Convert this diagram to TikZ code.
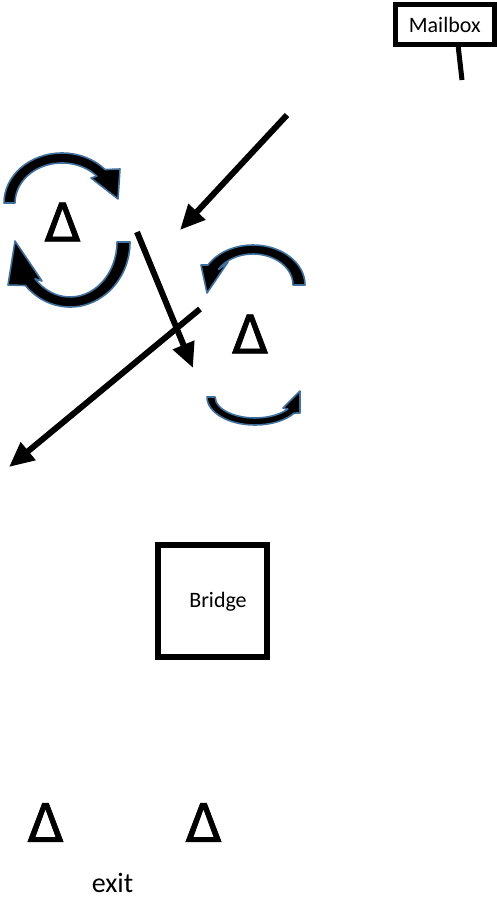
\documentclass[tikz,border=0pt]{standalone}
\usepackage{fontspec}
\setmainfont{Carlito}
\newfontfamily\deltafont[FakeBold=1.3]{DejaVu Sans}
\usetikzlibrary{arrows.meta}
\definecolor{outl}{HTML}{41719C}
\begin{document}
\begin{tikzpicture}[x=1pt,y=-1pt,
  curv/.style={fill=black, draw=outl, line width=1.6pt, line join=round},
  straight/.style={line width=6pt, -{Triangle[length=25pt,width=22pt]}},
  tri/.style={inner sep=0pt, font=\fontsize{53}{53}\deltafont},
  boxnode/.style={draw, line width=5pt, inner sep=0pt},
  lbl/.style={inner sep=0pt, font=\fontsize{22}{22}\selectfont}]
\useasboundingbox (0,0) rectangle (496,898);

% Mailbox
\node[boxnode, minimum width=98.5pt, minimum height=40pt, font=\fontsize{22}{22}\selectfont] (mailbox) at (444.75,24.5) {Mailbox};
\coordinate (poleend) at (462,80);
\draw[line width=5pt] ([xshift=13.5pt]mailbox.south) -- (poleend);

% straight arrows
\coordinate (a1s) at (287,115); \coordinate (a1e) at (180,230);
\coordinate (a2s) at (137,232); \coordinate (a2e) at (193,368);
\coordinate (a3s) at (200,309); \coordinate (a3e) at (9,467);
\draw[straight] (a1s) -- (a1e);
\draw[straight] (a2s) -- (a2e);
\draw[straight] (a3s) -- (a3e);

% left cycle
\filldraw[curv] (4,203) arc[start angle=180, end angle=318, x radius=58, y radius=50]
  -- (120,169) -- (118,199) -- (91,178) -- (96.9,176.2)
  arc[start angle=318, end angle=180, x radius=47, y radius=40] -- cycle;
\filldraw[curv] (130,242) arc[start angle=0, end angle=138, x radius=60, y radius=65]
  -- (8,285) -- (15,241) -- (42,281) -- (35.1,278.8)
  arc[start angle=138, end angle=0, x radius=47, y radius=55] -- cycle;
\node[tri] (d1) at (62.5,222) {Δ};

% middle cycle
\filldraw[curv] (305,285) arc[start angle=0, end angle=-150, x radius=52, y radius=40]
  -- (201,265) -- (207,293) -- (228,262) -- (218.4,269.5)
  arc[start angle=-150, end angle=0, x radius=40, y radius=31] -- cycle;
\filldraw[curv] (207,397) arc[start angle=180, end angle=35, x radius=48, y radius=28]
  -- (300,413) -- (300,391) -- (283,408) -- (287.8,409)
  arc[start angle=35, end angle=180, x radius=40, y radius=21] -- cycle;
\node[tri] (d2) at (250,334) {Δ};

% bridge
\node[boxnode, line width=6pt, minimum width=109pt, minimum height=112pt] (bridge) at (212.5,601) {};
\node[lbl] (bridgetext) at (218,602) {Bridge};

% bottom
\node[tri] (d3) at (45.5,822.5) {Δ};
\node[tri] (d4) at (203.5,822.5) {Δ};
\node[inner sep=0pt, anchor=base, font=\fontsize{28}{28}\selectfont] (exit) at (112.5,892) {exit};
\end{tikzpicture}
\end{document}
